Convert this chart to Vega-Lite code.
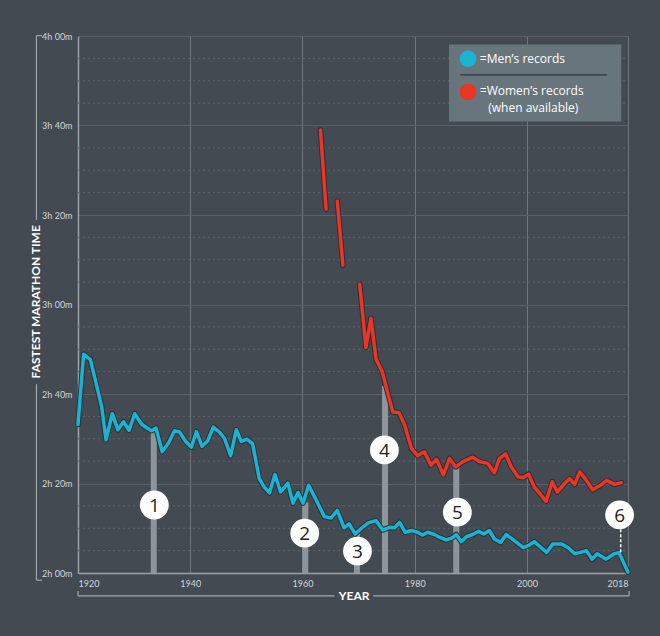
{
  "$schema": "https://vega.github.io/schema/vega-lite/v6.json",
  "width": 550,
  "height": 537,
  "autosize": {"type": "none"},
  "padding": {"left": 78, "top": 36, "right": 32, "bottom": 63},
  "background": "#434a51",
  "config": {"view": {"stroke": null}},
  "datasets": {
    "minor": [
      {"yr": 1920, "yr2": 2018, "m": 125}, {"yr": 1920, "yr2": 2018, "m": 130}, {"yr": 1920, "yr2": 2018, "m": 135},
      {"yr": 1920, "yr2": 2018, "m": 145}, {"yr": 1920, "yr2": 2018, "m": 150}, {"yr": 1920, "yr2": 2018, "m": 155},
      {"yr": 1920, "yr2": 2018, "m": 165}, {"yr": 1920, "yr2": 2018, "m": 170}, {"yr": 1920, "yr2": 2018, "m": 175},
      {"yr": 1920, "yr2": 2018, "m": 185}, {"yr": 1920, "yr2": 2018, "m": 190}, {"yr": 1920, "yr2": 2018, "m": 195},
      {"yr": 1920, "yr2": 2018, "m": 205}, {"yr": 1920, "yr2": 2018, "m": 210}, {"yr": 1920, "yr2": 2018, "m": 215},
      {"yr": 1920, "yr2": 2018, "m": 225}, {"yr": 1920, "yr2": 2018, "m": 230}, {"yr": 1920, "yr2": 2018, "m": 235}
    ],
    "bars": [
      {"yr": 1933.5, "m": 151.8, "m2": 120},
      {"yr": 1960.5, "m": 135.8, "m2": 120},
      {"yr": 1969.7, "m": 128.8, "m2": 120},
      {"yr": 1974.7, "m": 161.8, "m2": 120},
      {"yr": 1987.4, "m": 143.8, "m2": 120}
    ],
    "dashed": [
      {"yr": 2016.7, "m": 129.8, "m2": 124.6}
    ],
    "circles": [
      {"yr": 1933.6, "m": 135.2, "t": "1"},
      {"yr": 1960.4, "m": 128.9, "t": "2"},
      {"yr": 1969.8, "m": 124.9, "t": "3"},
      {"yr": 1974.6, "m": 147.5, "t": "4"},
      {"yr": 1987.6, "m": 133.6, "t": "5"},
      {"yr": 2016.5, "m": 133.0, "t": "6"}
    ],
    "lines": [
      {"s": "men", "seg": "m", "yr": 1920.0, "m": 153.2},
      {"s": "men", "seg": "m", "yr": 1921.0, "m": 168.9},
      {"s": "men", "seg": "m", "yr": 1922.2, "m": 167.7},
      {"s": "men", "seg": "m", "yr": 1924.2, "m": 157.3},
      {"s": "men", "seg": "m", "yr": 1925.0, "m": 149.8},
      {"s": "men", "seg": "m", "yr": 1926.1, "m": 155.6},
      {"s": "men", "seg": "m", "yr": 1927.1, "m": 152.0},
      {"s": "men", "seg": "m", "yr": 1928.1, "m": 153.8},
      {"s": "men", "seg": "m", "yr": 1929.1, "m": 151.9},
      {"s": "men", "seg": "m", "yr": 1930.1, "m": 155.6},
      {"s": "men", "seg": "m", "yr": 1931.3, "m": 153.3},
      {"s": "men", "seg": "m", "yr": 1932.3, "m": 152.4},
      {"s": "men", "seg": "m", "yr": 1933.1, "m": 151.8},
      {"s": "men", "seg": "m", "yr": 1933.9, "m": 152.4},
      {"s": "men", "seg": "m", "yr": 1935.0, "m": 147.1},
      {"s": "men", "seg": "m", "yr": 1936.1, "m": 149.0},
      {"s": "men", "seg": "m", "yr": 1937.2, "m": 151.8},
      {"s": "men", "seg": "m", "yr": 1938.1, "m": 151.5},
      {"s": "men", "seg": "m", "yr": 1939.2, "m": 149.4},
      {"s": "men", "seg": "m", "yr": 1940.2, "m": 148.1},
      {"s": "men", "seg": "m", "yr": 1941.1, "m": 151.6},
      {"s": "men", "seg": "m", "yr": 1942.1, "m": 148.3},
      {"s": "men", "seg": "m", "yr": 1943.1, "m": 149.5},
      {"s": "men", "seg": "m", "yr": 1944.1, "m": 152.6},
      {"s": "men", "seg": "m", "yr": 1945.2, "m": 151.5},
      {"s": "men", "seg": "m", "yr": 1946.1, "m": 150.1},
      {"s": "men", "seg": "m", "yr": 1947.2, "m": 146.2},
      {"s": "men", "seg": "m", "yr": 1948.2, "m": 152.0},
      {"s": "men", "seg": "m", "yr": 1949.1, "m": 149.4},
      {"s": "men", "seg": "m", "yr": 1950.1, "m": 149.9},
      {"s": "men", "seg": "m", "yr": 1951.1, "m": 148.9},
      {"s": "men", "seg": "m", "yr": 1952.3, "m": 141.1},
      {"s": "men", "seg": "m", "yr": 1953.2, "m": 139.2},
      {"s": "men", "seg": "m", "yr": 1954.1, "m": 137.9},
      {"s": "men", "seg": "m", "yr": 1955.1, "m": 142.0},
      {"s": "men", "seg": "m", "yr": 1956.1, "m": 138.1},
      {"s": "men", "seg": "m", "yr": 1957.4, "m": 140.1},
      {"s": "men", "seg": "m", "yr": 1958.3, "m": 135.6},
      {"s": "men", "seg": "m", "yr": 1959.2, "m": 138.0},
      {"s": "men", "seg": "m", "yr": 1960.1, "m": 135.6},
      {"s": "men", "seg": "m", "yr": 1961.1, "m": 139.6},
      {"s": "men", "seg": "m", "yr": 1962.4, "m": 136.4},
      {"s": "men", "seg": "m", "yr": 1963.9, "m": 132.6},
      {"s": "men", "seg": "m", "yr": 1965.1, "m": 132.3},
      {"s": "men", "seg": "m", "yr": 1966.2, "m": 134.0},
      {"s": "men", "seg": "m", "yr": 1967.4, "m": 130.1},
      {"s": "men", "seg": "m", "yr": 1968.3, "m": 131.0},
      {"s": "men", "seg": "m", "yr": 1969.4, "m": 128.7},
      {"s": "men", "seg": "m", "yr": 1970.5, "m": 130.0},
      {"s": "men", "seg": "m", "yr": 1971.7, "m": 131.2},
      {"s": "men", "seg": "m", "yr": 1973.1, "m": 131.7},
      {"s": "men", "seg": "m", "yr": 1974.3, "m": 129.6},
      {"s": "men", "seg": "m", "yr": 1975.5, "m": 130.2},
      {"s": "men", "seg": "m", "yr": 1976.4, "m": 130.1},
      {"s": "men", "seg": "m", "yr": 1977.3, "m": 131.3},
      {"s": "men", "seg": "m", "yr": 1978.3, "m": 129.1},
      {"s": "men", "seg": "m", "yr": 1979.4, "m": 129.5},
      {"s": "men", "seg": "m", "yr": 1980.5, "m": 129.1},
      {"s": "men", "seg": "m", "yr": 1981.4, "m": 128.5},
      {"s": "men", "seg": "m", "yr": 1982.3, "m": 129.1},
      {"s": "men", "seg": "m", "yr": 1983.5, "m": 128.6},
      {"s": "men", "seg": "m", "yr": 1984.4, "m": 128.0},
      {"s": "men", "seg": "m", "yr": 1985.6, "m": 127.4},
      {"s": "men", "seg": "m", "yr": 1986.6, "m": 127.8},
      {"s": "men", "seg": "m", "yr": 1987.4, "m": 128.6},
      {"s": "men", "seg": "m", "yr": 1988.3, "m": 127.0},
      {"s": "men", "seg": "m", "yr": 1989.2, "m": 128.1},
      {"s": "men", "seg": "m", "yr": 1990.3, "m": 128.6},
      {"s": "men", "seg": "m", "yr": 1991.4, "m": 129.3},
      {"s": "men", "seg": "m", "yr": 1992.3, "m": 128.7},
      {"s": "men", "seg": "m", "yr": 1993.3, "m": 129.5},
      {"s": "men", "seg": "m", "yr": 1994.2, "m": 127.6},
      {"s": "men", "seg": "m", "yr": 1995.3, "m": 126.8},
      {"s": "men", "seg": "m", "yr": 1996.3, "m": 128.6},
      {"s": "men", "seg": "m", "yr": 1997.8, "m": 127.2},
      {"s": "men", "seg": "m", "yr": 1999.3, "m": 125.7},
      {"s": "men", "seg": "m", "yr": 2000.2, "m": 126.1},
      {"s": "men", "seg": "m", "yr": 2001.3, "m": 127.0},
      {"s": "men", "seg": "m", "yr": 2002.5, "m": 125.7},
      {"s": "men", "seg": "m", "yr": 2003.5, "m": 124.6},
      {"s": "men", "seg": "m", "yr": 2004.6, "m": 126.5},
      {"s": "men", "seg": "m", "yr": 2006.1, "m": 126.5},
      {"s": "men", "seg": "m", "yr": 2007.3, "m": 125.7},
      {"s": "men", "seg": "m", "yr": 2008.5, "m": 124.3},
      {"s": "men", "seg": "m", "yr": 2009.5, "m": 124.6},
      {"s": "men", "seg": "m", "yr": 2010.6, "m": 125.0},
      {"s": "men", "seg": "m", "yr": 2011.6, "m": 123.1},
      {"s": "men", "seg": "m", "yr": 2012.5, "m": 124.3},
      {"s": "men", "seg": "m", "yr": 2014.1, "m": 123.1},
      {"s": "men", "seg": "m", "yr": 2015.4, "m": 124.2},
      {"s": "men", "seg": "m", "yr": 2016.4, "m": 124.6},
      {"s": "men", "seg": "m", "yr": 2018.0, "m": 120.2},
      {"s": "women", "seg": "w1", "yr": 1963.2, "m": 219.0},
      {"s": "women", "seg": "w1", "yr": 1964.2, "m": 201.3},
      {"s": "women", "seg": "w2", "yr": 1966.2, "m": 203.1},
      {"s": "women", "seg": "w2", "yr": 1967.2, "m": 188.8},
      {"s": "women", "seg": "w3", "yr": 1970.2, "m": 184.5},
      {"s": "women", "seg": "w3", "yr": 1971.3, "m": 170.4},
      {"s": "women", "seg": "w3", "yr": 1972.2, "m": 176.9},
      {"s": "women", "seg": "w3", "yr": 1973.1, "m": 167.8},
      {"s": "women", "seg": "w3", "yr": 1974.2, "m": 165.0},
      {"s": "women", "seg": "w3", "yr": 1975.2, "m": 160.2},
      {"s": "women", "seg": "w3", "yr": 1976.1, "m": 156.0},
      {"s": "women", "seg": "w3", "yr": 1977.2, "m": 155.8},
      {"s": "women", "seg": "w3", "yr": 1978.2, "m": 153.1},
      {"s": "women", "seg": "w3", "yr": 1979.4, "m": 147.9},
      {"s": "women", "seg": "w3", "yr": 1980.5, "m": 146.2},
      {"s": "women", "seg": "w3", "yr": 1981.7, "m": 147.1},
      {"s": "women", "seg": "w3", "yr": 1982.9, "m": 144.1},
      {"s": "women", "seg": "w3", "yr": 1983.9, "m": 145.4},
      {"s": "women", "seg": "w3", "yr": 1985.1, "m": 141.9},
      {"s": "women", "seg": "w3", "yr": 1986.2, "m": 145.6},
      {"s": "women", "seg": "w3", "yr": 1987.3, "m": 143.7},
      {"s": "women", "seg": "w3", "yr": 1988.6, "m": 144.9},
      {"s": "women", "seg": "w3", "yr": 1990.3, "m": 145.9},
      {"s": "women", "seg": "w3", "yr": 1991.5, "m": 144.9},
      {"s": "women", "seg": "w3", "yr": 1993.0, "m": 144.5},
      {"s": "women", "seg": "w3", "yr": 1994.2, "m": 142.4},
      {"s": "women", "seg": "w3", "yr": 1995.1, "m": 145.6},
      {"s": "women", "seg": "w3", "yr": 1996.2, "m": 146.6},
      {"s": "women", "seg": "w3", "yr": 1997.2, "m": 143.7},
      {"s": "women", "seg": "w3", "yr": 1998.4, "m": 141.5},
      {"s": "women", "seg": "w3", "yr": 1999.3, "m": 141.3},
      {"s": "women", "seg": "w3", "yr": 2000.3, "m": 142.1},
      {"s": "women", "seg": "w3", "yr": 2001.3, "m": 139.2},
      {"s": "women", "seg": "w3", "yr": 2002.4, "m": 137.6},
      {"s": "women", "seg": "w3", "yr": 2003.4, "m": 136.0},
      {"s": "women", "seg": "w3", "yr": 2004.5, "m": 140.4},
      {"s": "women", "seg": "w3", "yr": 2005.4, "m": 138.1},
      {"s": "women", "seg": "w3", "yr": 2006.7, "m": 140.0},
      {"s": "women", "seg": "w3", "yr": 2007.6, "m": 141.1},
      {"s": "women", "seg": "w3", "yr": 2008.5, "m": 139.8},
      {"s": "women", "seg": "w3", "yr": 2009.4, "m": 142.6},
      {"s": "women", "seg": "w3", "yr": 2010.6, "m": 140.7},
      {"s": "women", "seg": "w3", "yr": 2011.7, "m": 138.6},
      {"s": "women", "seg": "w3", "yr": 2013.1, "m": 139.6},
      {"s": "women", "seg": "w3", "yr": 2014.2, "m": 140.7},
      {"s": "women", "seg": "w3", "yr": 2015.6, "m": 139.8},
      {"s": "women", "seg": "w3", "yr": 2016.8, "m": 140.2}
    ],
    "legendbox": [
      {"yr": 1986.1, "yr2": 2016.8, "m": 238.1, "m2": 220.9}
    ],
    "legenddots": [
      {"s": "men", "yr": 1989.5, "m": 234.9},
      {"s": "women", "yr": 1989.5, "m": 227.5}
    ],
    "legenddivider": [
      {"yr": 1988.1, "yr2": 2014.2, "m": 231.3, "m2": 231.3}
    ],
    "legendtext": [
      {"t": "=Men’s records", "yr": 1991.6, "m": 234.9},
      {"t": "=Women’s records", "yr": 1991.6, "m": 227.6},
      {"t": "(when available)", "yr": 1993.1, "m": 224.0}
    ],
    "brackets": [
      {"yr": 1912.6, "yr2": 1912.6, "m": 240.1, "m2": 198.9},
      {"yr": 1912.6, "yr2": 1912.6, "m": 162.2, "m2": 118.4},
      {"yr": 1912.6, "yr2": 1913.6, "m": 240.1, "m2": 240.1},
      {"yr": 1912.6, "yr2": 1913.6, "m": 118.4, "m2": 118.4},
      {"yr": 1920.0, "yr2": 1965.7, "m": 114.9, "m2": 114.9},
      {"yr": 1972.6, "yr2": 2018.2, "m": 114.9, "m2": 114.9},
      {"yr": 1920.0, "yr2": 1920.0, "m": 114.9, "m2": 116.0},
      {"yr": 2018.2, "yr2": 2018.2, "m": 114.9, "m2": 116.0}
    ],
    "titles": [
      {"t": "FASTEST MARATHON TIME", "yr": 1912.5, "m": 180.6, "a": 270},
      {"t": "YEAR", "yr": 1969.2, "m": 114.9, "a": 0}
    ]
  },
  "layer": [
    {
      "data": {"name": "minor"},
      "mark": {"type": "rule", "stroke": "#5e656c", "strokeWidth": 1, "strokeDash": [2, 3]},
      "encoding": {
        "x": {
          "field": "yr", "type": "quantitative", "title": null,
          "scale": {"domain": [1920, 2018], "nice": false, "zero": false},
          "axis": {
            "values": [1920, 1940, 1960, 1980, 2000, 2018], "format": "d", "title": null,
            "labelFont": "Lato", "labelFontSize": 9, "labelColor": "#d3d6d9", "labelPadding": 6,
            "labelFlush": true, "ticks": false,
            "domainColor": "#9ba1a6", "domainWidth": 1.5,
            "grid": true, "gridColor": "#6f757b", "gridWidth": 1
          }
        },
        "x2": {"field": "yr2"},
        "y": {
          "field": "m", "type": "quantitative", "title": null,
          "scale": {"domain": [120, 240], "nice": false, "zero": false},
          "axis": {
            "values": [120, 140, 160, 180, 200, 220, 240], "title": null,
            "labelExpr": "floor(datum.value/60) + 'h ' + (datum.value % 60 == 0 ? '00' : datum.value % 60) + 'm'",
            "labelFont": "Lato", "labelFontSize": 9, "labelColor": "#d3d6d9", "labelPadding": 6,
            "labelFlush": false, "ticks": false,
            "domainColor": "#9ba1a6", "domainWidth": 1.5,
            "grid": true, "gridColor": "#596067", "gridWidth": 1
          }
        }
      }
    },
    {
      "data": {"name": "bars"},
      "mark": {"type": "rule", "stroke": "#8e9499", "strokeWidth": 6},
      "encoding": {
        "x": {"field": "yr", "type": "quantitative", "title": null},
        "y": {"field": "m", "type": "quantitative", "title": null},
        "y2": {"field": "m2"}
      }
    },
    {
      "data": {"name": "lines"},
      "mark": {"type": "line", "stroke": "#2c3136", "strokeWidth": 5.5, "strokeJoin": "round", "strokeCap": "round"},
      "encoding": {
        "x": {"field": "yr", "type": "quantitative", "title": null},
        "y": {"field": "m", "type": "quantitative", "title": null},
        "detail": {"field": "seg"}
      }
    },
    {
      "data": {"name": "lines"},
      "mark": {"type": "line", "strokeWidth": 3.5, "strokeJoin": "round", "strokeCap": "round"},
      "encoding": {
        "x": {"field": "yr", "type": "quantitative", "title": null},
        "y": {"field": "m", "type": "quantitative", "title": null},
        "detail": {"field": "seg"},
        "color": {"field": "s", "type": "nominal", "legend": null,
          "scale": {"domain": ["men", "women"], "range": ["#19b4d3", "#ec3524"]}}
      }
    },
    {
      "data": {"name": "dashed"},
      "mark": {"type": "rule", "stroke": "#ffffff", "strokeWidth": 1.5, "strokeDash": [3, 2]},
      "encoding": {
        "x": {"field": "yr", "type": "quantitative", "title": null},
        "y": {"field": "m", "type": "quantitative", "title": null},
        "y2": {"field": "m2"}
      }
    },
    {
      "data": {"name": "circles"},
      "mark": {"type": "point", "shape": "circle", "filled": true, "fill": "#ffffff", "opacity": 1, "size": 830, "strokeWidth": 0},
      "encoding": {
        "x": {"field": "yr", "type": "quantitative", "title": null},
        "y": {"field": "m", "type": "quantitative", "title": null}
      }
    },
    {
      "data": {"name": "circles"},
      "mark": {"type": "text", "font": "Open Sans", "fontSize": 19, "color": "#231f20", "align": "center", "baseline": "middle", "dy": 1},
      "encoding": {
        "x": {"field": "yr", "type": "quantitative", "title": null},
        "y": {"field": "m", "type": "quantitative", "title": null},
        "text": {"field": "t"}
      }
    },
    {
      "data": {"name": "legendbox"},
      "mark": {"type": "rect", "fill": "#69757d"},
      "encoding": {
        "x": {"field": "yr", "type": "quantitative", "title": null},
        "x2": {"field": "yr2"},
        "y": {"field": "m", "type": "quantitative", "title": null},
        "y2": {"field": "m2"}
      }
    },
    {
      "data": {"name": "legenddots"},
      "mark": {"type": "point", "shape": "circle", "filled": true, "opacity": 1, "size": 275},
      "encoding": {
        "x": {"field": "yr", "type": "quantitative", "title": null},
        "y": {"field": "m", "type": "quantitative", "title": null},
        "color": {"field": "s", "type": "nominal", "legend": null}
      }
    },
    {
      "data": {"name": "legenddivider"},
      "mark": {"type": "rule", "stroke": "#22272b", "strokeWidth": 1},
      "encoding": {
        "x": {"field": "yr", "type": "quantitative", "title": null},
        "x2": {"field": "yr2"},
        "y": {"field": "m", "type": "quantitative", "title": null}
      }
    },
    {
      "data": {"name": "legendtext"},
      "mark": {"type": "text", "font": "Open Sans", "fontSize": 12, "color": "#ffffff", "align": "left", "baseline": "middle"},
      "encoding": {
        "x": {"field": "yr", "type": "quantitative", "title": null},
        "y": {"field": "m", "type": "quantitative", "title": null},
        "text": {"field": "t"}
      }
    },
    {
      "data": {"name": "brackets"},
      "mark": {"type": "rule", "stroke": "#a3a8ad", "strokeWidth": 1.2},
      "encoding": {
        "x": {"field": "yr", "type": "quantitative", "title": null},
        "x2": {"field": "yr2"},
        "y": {"field": "m", "type": "quantitative", "title": null},
        "y2": {"field": "m2"}
      }
    },
    {
      "data": {"name": "titles"},
      "mark": {"type": "text", "font": "Lato", "fontSize": 12, "fontWeight": "bold", "color": "#ffffff", "align": "center", "baseline": "middle"},
      "encoding": {
        "x": {"field": "yr", "type": "quantitative", "title": null},
        "y": {"field": "m", "type": "quantitative", "title": null},
        "text": {"field": "t"},
        "angle": {"field": "a", "type": "quantitative", "scale": null}
      }
    }
  ]
}
